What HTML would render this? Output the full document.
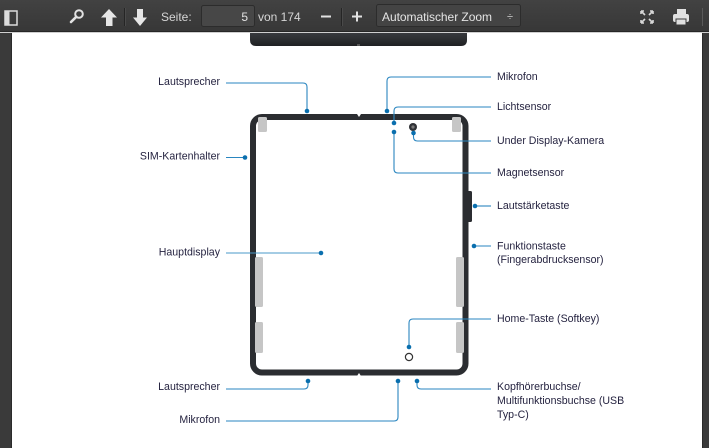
<!DOCTYPE html>
<html><head><meta charset="utf-8"><style>
html,body{margin:0;padding:0;background:#fff;}
svg{display:block;}
.lbl{font-family:"Liberation Sans",sans-serif;font-size:10.6px;fill:#252340;}
.tb{font-family:"Liberation Sans",sans-serif;font-size:12px;fill:#d6d6d6;}
.c{fill:none;stroke:#2a86c0;stroke-width:1.1;}
.d{fill:#0a6fae;}
</style></head><body>
<svg width="709" height="448" viewBox="0 0 709 448" xmlns="http://www.w3.org/2000/svg">
<defs>
<linearGradient id="tbg" x1="0" y1="0" x2="0" y2="1">
<stop offset="0" stop-color="#424242"/><stop offset="1" stop-color="#373737"/>
</linearGradient>
<linearGradient id="ph" x1="0" y1="0" x2="0" y2="1">
<stop offset="0" stop-color="#3a3c40"/><stop offset="0.6" stop-color="#2a2c2f"/><stop offset="1" stop-color="#1f2023"/>
</linearGradient>
</defs>
<!-- background / side strips -->
<rect x="0" y="0" width="709" height="448" fill="#ffffff"/>
<rect x="0" y="32" width="12" height="416" fill="#3a3a3a"/>
<rect x="11" y="32" width="1" height="416" fill="#2a2a2a"/>
<rect x="702" y="32" width="7" height="416" fill="#3a3a3a"/>
<rect x="702" y="32" width="1" height="416" fill="#2a2a2a"/>

<!-- previous page phone bottom -->
<path d="M250,32 H467 V40 Q467,46 461,46 H256 Q250,46 250,40 Z" fill="url(#ph)"/>
<rect x="357" y="44" width="3" height="2" fill="#555"/>

<!-- toolbar -->
<rect x="0" y="0" width="709" height="32" fill="url(#tbg)"/>
<rect x="0" y="31" width="709" height="1" fill="#262626"/>
<rect x="0" y="32" width="709" height="1" fill="#cfcfcf"/>
<!-- sidebar icon -->
<rect x="5" y="11" width="12" height="14" fill="none" stroke="#dcdcdc" stroke-width="1.5"/>
<rect x="5" y="11" width="4.5" height="14" fill="#dcdcdc"/>
<!-- search -->
<circle cx="79" cy="14" r="3.8" fill="none" stroke="#e2e2e2" stroke-width="2"/>
<line x1="76.3" y1="16.8" x2="71" y2="22" stroke="#e2e2e2" stroke-width="2.6" stroke-linecap="round"/>
<!-- up arrow -->
<polygon points="109,9 117,17.5 112.5,17.5 112.5,26 106,26 106,17.5 101,17.5" fill="#e6e6e6"/>
<rect x="124" y="8" width="1" height="18" fill="#252525"/>
<rect x="125" y="8" width="1" height="18" fill="#4a4a4a"/>
<!-- down arrow -->
<polygon points="140,26 147,17.5 143,17.5 143,9 137,9 137,17.5 133,17.5" fill="#e6e6e6"/>
<text class="tb" x="161" y="21">Seite:</text>
<!-- page input -->
<rect x="201.5" y="5.5" width="53" height="21" rx="2" fill="#474747" stroke="#2c2c2c"/>
<text class="tb" x="248" y="21" text-anchor="end" style="fill:#e2e2e2">5</text>
<text class="tb" x="258" y="21">von 174</text>
<!-- minus / plus -->
<rect x="321" y="15.5" width="10" height="2" fill="#e2e2e2"/>
<rect x="341" y="8" width="1" height="18" fill="#252525"/>
<rect x="342" y="8" width="1" height="18" fill="#4a4a4a"/>
<rect x="352" y="15.5" width="10" height="2" fill="#e2e2e2"/>
<rect x="356" y="11.5" width="2" height="10" fill="#e2e2e2"/>
<!-- zoom select -->
<rect x="376.5" y="4.5" width="144" height="22" rx="2" fill="#444444" stroke="#2c2c2c"/>
<text class="tb" x="382" y="21" textLength="110" style="fill:#e4e4e4">Automatischer Zoom</text>
<text class="tb" x="507" y="20" style="fill:#d0d0d0;font-size:11px">÷</text>
<!-- fullscreen icon -->
<g stroke="#d8d8d8" stroke-width="1.6" fill="none">
<path d="M641,11 L645,15 M641,11 h3 M641,11 v3"/>
<path d="M653,11 L649,15 M653,11 h-3 M653,11 v3"/>
<path d="M641,23 L645,19 M641,23 h3 M641,23 v-3"/>
<path d="M653,23 L649,19 M653,23 h-3 M653,23 v-3"/>
</g>
<!-- print icon -->
<rect x="677" y="9" width="9" height="5" fill="#e0e0e0"/>
<rect x="673" y="14" width="16" height="8" rx="2" fill="#e0e0e0"/>
<rect x="676" y="19" width="10" height="6" fill="#e0e0e0" stroke="#3c3c3c" stroke-width="1"/>
<rect x="702" y="8" width="1" height="18" fill="#5a5a5a"/>

<!-- phone -->
<rect x="253" y="117" width="212.5" height="255.5" rx="9" fill="#ffffff" stroke="#2b2d31" stroke-width="6"/>
<!-- notches -->
<polygon points="357,114 361,114 359,117" fill="#ffffff"/>
<polygon points="357,376 361,376 359,373" fill="#ffffff"/>
<!-- gray tabs -->
<rect x="258" y="117" width="9" height="15" rx="1.5" fill="#c6c6c6"/>
<rect x="452" y="117" width="9" height="15" rx="1.5" fill="#c6c6c6"/>
<rect x="255" y="257" width="8" height="50" rx="1.5" fill="#c6c6c6"/>
<rect x="255" y="322" width="8" height="31" rx="1.5" fill="#c6c6c6"/>
<rect x="456" y="257" width="8" height="50" rx="1.5" fill="#c6c6c6"/>
<rect x="456" y="322" width="8" height="31" rx="1.5" fill="#c6c6c6"/>
<!-- volume key -->
<rect x="467" y="191" width="5" height="31" rx="1.5" fill="#2b2d31"/>
<!-- camera -->
<circle cx="413" cy="127" r="4" fill="#303236"/>
<circle cx="413" cy="127" r="1.6" fill="#7a7a7a"/>
<!-- home key -->
<circle cx="409" cy="357" r="3.6" fill="none" stroke="#333" stroke-width="1.2"/>

<!-- connectors left -->
<path class="c" d="M226,83 H303 Q307,83 307,87 V111"/>
<circle class="d" cx="307" cy="111" r="2.3"/>
<path class="c" d="M226,157.5 H245"/>
<circle class="d" cx="245" cy="157.5" r="2.3"/>
<path class="c" d="M226,253 H321" style="stroke:#4a98c8"/>
<circle class="d" cx="321" cy="253" r="2.3"/>
<path class="c" d="M226,389 H304 Q308,389 308,385 V381"/>
<circle class="d" cx="308" cy="381" r="2.3"/>
<path class="c" d="M226,421 H394 Q398,421 398,417 V381"/>
<circle class="d" cx="398" cy="381" r="2.3"/>

<!-- connectors right -->
<path class="c" d="M491,77 H391 Q387,77 387,81 V111"/>
<circle class="d" cx="387" cy="111" r="2.3"/>
<path class="c" d="M491,107 H398 Q394,107 394,111 V123"/>
<circle class="d" cx="394" cy="123" r="2.3"/>
<path class="c" d="M394,132 V169 Q394,173 398,173 H491"/>
<circle class="d" cx="394" cy="132" r="2.3"/>
<path class="c" d="M413.5,133 V137 Q413.5,141 417.5,141 H491"/>
<circle class="d" cx="413.5" cy="133" r="2.3"/>
<path class="c" d="M475,206 H491"/>
<circle class="d" cx="475" cy="206" r="2.3"/>
<path class="c" d="M474,246 H491"/>
<circle class="d" cx="474" cy="246" r="2.3"/>
<path class="c" d="M491,319 H413 Q409,319 409,323 V347"/>
<circle class="d" cx="409" cy="347" r="2.3"/>
<path class="c" d="M417,381 V385 Q417,389 421,389 H491"/>
<circle class="d" cx="417" cy="381" r="2.3"/>

<!-- labels left -->
<text class="lbl" x="220" y="85" text-anchor="end">Lautsprecher</text>
<text class="lbl" x="220" y="159.5" text-anchor="end">SIM-Kartenhalter</text>
<text class="lbl" x="220" y="255.5" text-anchor="end">Hauptdisplay</text>
<text class="lbl" x="220" y="390" text-anchor="end">Lautsprecher</text>
<text class="lbl" x="220" y="423" text-anchor="end">Mikrofon</text>

<!-- labels right -->
<text class="lbl" x="497" y="80">Mikrofon</text>
<text class="lbl" x="497" y="110">Lichtsensor</text>
<text class="lbl" x="497" y="144">Under Display-Kamera</text>
<text class="lbl" x="497" y="176">Magnetsensor</text>
<text class="lbl" x="497" y="209">Lautstärketaste</text>
<text class="lbl" x="497" y="249.5">Funktionstaste</text>
<text class="lbl" x="497" y="263">(Fingerabdrucksensor)</text>
<text class="lbl" x="497" y="322">Home-Taste (Softkey)</text>
<text class="lbl" x="497" y="390">Kopfhörerbuchse/</text>
<text class="lbl" x="497" y="404">Multifunktionsbuchse (USB</text>
<text class="lbl" x="497" y="418">Typ-C)</text>
</svg>
</body></html>
